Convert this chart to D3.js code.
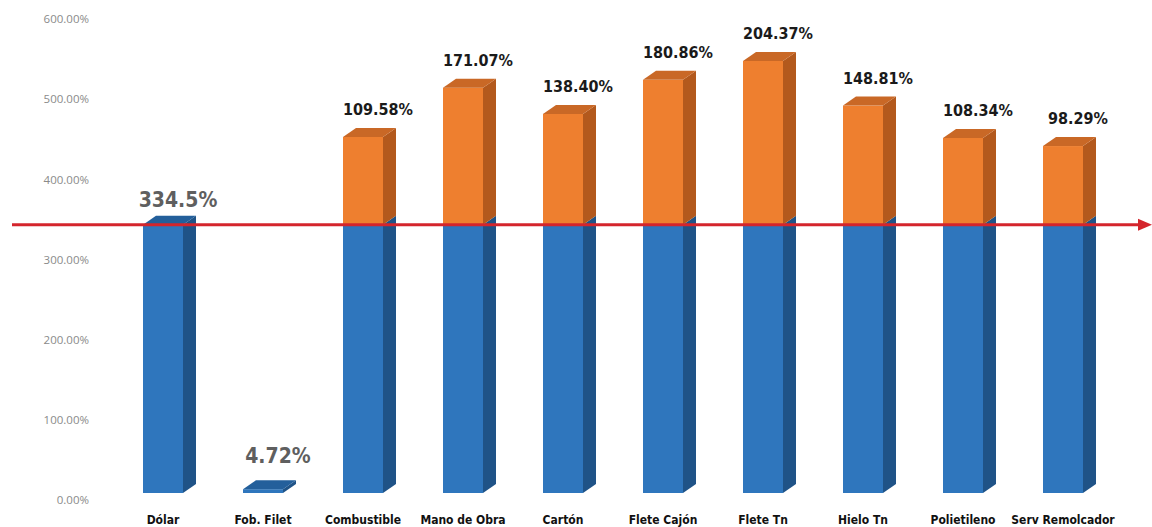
<!DOCTYPE html>
<html>
<head>
<meta charset="utf-8">
<script src="https://cdn.jsdelivr.net/npm/d3@7"></script>
<style>
  body { margin: 0; background: #fff; }
</style>
</head>
<body>
<div id="chart"></div>
<script>
// Data
const categories = ["Dólar", "Fob. Filet", "Combustible", "Mano de Obra", "Cartón",
                    "Flete Cajón", "Flete Tn", "Hielo Tn", "Polietileno", "Serv Remolcador"];
const baseValues = [334.5, 4.72, 334.5, 334.5, 334.5, 334.5, 334.5, 334.5, 334.5, 334.5];
const increaseValues = [0, 0, 109.58, 171.07, 138.40, 180.86, 204.37, 148.81, 108.34, 98.29];
const valueLabels = ["334.5%", "4.72%", "109.58%", "171.07%", "138.40%",
                     "180.86%", "204.37%", "148.81%", "108.34%", "98.29%"];
const yTicks = [0, 100, 200, 300, 400, 500, 600];
const refValue = 334.5;

const width = 1152, height = 527;
const depthX = 13, depthY = 9, lift = 7;   // 3D look

const svg = d3.select("#chart").append("svg")
    .attr("width", width)
    .attr("height", height);

// scales
const y = d3.scaleLinear().domain([0, 600]).range([500, 19]);
const x = d3.scaleBand().domain(categories).range([113, 1113]).paddingInner(0.6).paddingOuter(0.3);
const yf = v => y(v) - lift;   // front face

const blue = { front: "#2f76bd", side: "#1f5387", top: "#235f9b" };
const orange = { front: "#ee7f2f", side: "#b3591d", top: "#c96826" };

// y axis labels (no line)
svg.append("g")
    .attr("transform", "translate(89,0)")
    .call(d3.axisLeft(y).tickValues(yTicks).tickSize(0).tickPadding(0)
            .tickFormat(d => d3.format(".2%")(d / 100)))
    .call(g => g.select(".domain").remove())
    .selectAll("text")
      .attr("fill", "#8a8a8a")
      .attr("font-family", "Open Sans, sans-serif")
      .attr("font-size", "11.5px");

// draw one 3D segment
function segment(g, x0, w, v0, v1, col, withTop) {
  const yt = yf(v1), yb = yf(v0);
  g.append("rect")
      .attr("x", x0).attr("y", yt)
      .attr("width", w).attr("height", Math.max(0, yb - yt))
      .attr("fill", col.front);
  g.append("polygon")
      .attr("points", [[x0 + w, yt], [x0 + w + depthX, yt - depthY],
                       [x0 + w + depthX, yb - depthY], [x0 + w, yb]].join(" "))
      .attr("fill", col.side);
  if (withTop) {
    g.append("polygon")
        .attr("points", [[x0, yt], [x0 + depthX, yt - depthY],
                         [x0 + w + depthX, yt - depthY], [x0 + w, yt]].join(" "))
        .attr("fill", col.top);
  }
}

const bars = svg.append("g");
categories.forEach((c, i) => {
  const g = bars.append("g");
  const x0 = x(c), w = x.bandwidth();
  const b = baseValues[i], inc = increaseValues[i];
  segment(g, x0, w, 0, b, blue, inc === 0);
  if (inc > 0) segment(g, x0, w, b, b + inc, orange, true);
});

// reference line with arrow
const ry = yf(refValue);
svg.append("line")
    .attr("x1", 12).attr("x2", 1142)
    .attr("y1", ry).attr("y2", ry)
    .attr("stroke", "#d4252c")
    .attr("stroke-width", 3);
svg.append("polygon")
    .attr("points", [[1138, ry - 6], [1152, ry], [1138, ry + 6]].join(" "))
    .attr("fill", "#d4252c");

// value labels
categories.forEach((c, i) => {
  const total = baseValues[i] + increaseValues[i];
  const cx = x(c) + x.bandwidth() / 2 + 15;
  const isOrange = increaseValues[i] > 0;
  svg.append("text")
      .attr("x", cx)
      .attr("y", isOrange ? yf(total) - 22 : Math.min(yf(total) - 18, 463))
      .attr("text-anchor", "middle")
      .attr("font-family", "DejaVu Sans Condensed, sans-serif")
      .attr("font-weight", "bold")
      .attr("font-size", isOrange ? "16px" : "21px")
      .attr("fill", isOrange ? "#1a1a1a" : "#5f5f5f")
      .text(valueLabels[i]);
});

// category labels
svg.append("g").selectAll("text")
    .data(categories)
    .join("text")
      .attr("x", d => x(d) + x.bandwidth() / 2)
      .attr("y", 524)
      .attr("text-anchor", "middle")
      .attr("font-family", "DejaVu Sans Condensed, sans-serif")
      .attr("font-weight", "bold")
      .attr("font-size", "12px")
      .attr("fill", "#111")
      .text(d => d);
</script>
</body>
</html>
